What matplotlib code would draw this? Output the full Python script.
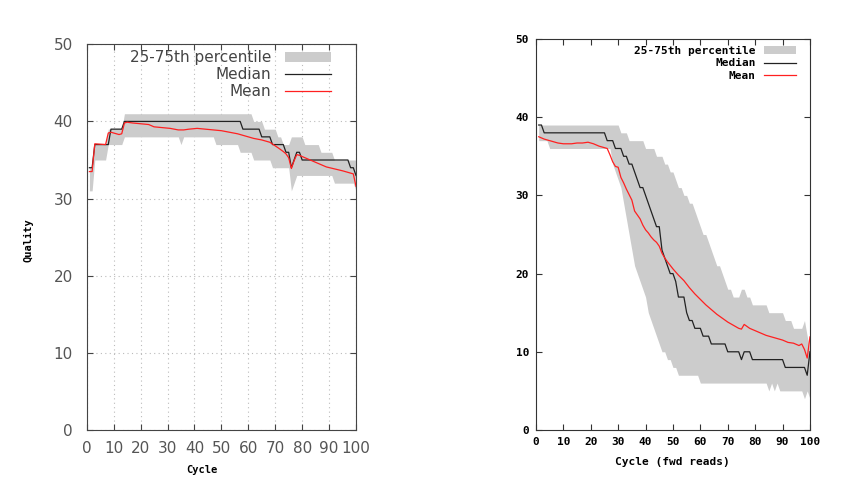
import matplotlib
matplotlib.use("Agg")
import matplotlib.pyplot as plt
import numpy as np

# left panel, per cycle 1..100 stored as (value, run length)
left_q25_vals = [31, 35, 37, 38, 37, 38, 37, 36, 35, 34, 31, 32, 33, 32, 31]
left_q25_runs = [2, 5, 6, 21, 1, 12, 9, 5, 7, 7, 1, 1, 14, 8, 1]
left_q75_vals = [34, 37, 39, 41, 40, 39, 38, 37, 38, 37, 36, 35]
left_q75_runs = [2, 5, 6, 48, 4, 5, 2, 3, 5, 6, 5, 9]
left_med_vals = [34, 37, 39, 40, 39, 38, 37, 36, 34, 35, 36, 35, 34, 33]
left_med_runs = [2, 6, 5, 44, 7, 4, 5, 2, 1, 1, 2, 18, 2, 1]
left_mean_cyc = [1, 2, 3, 7, 8, 9, 10, 12, 13, 14, 15, 17, 20, 23, 25, 28, 31, 34, 36,
                 38, 41, 44, 47, 50, 53, 56, 59, 62, 65, 68, 71, 73, 74, 75, 76, 77,
                 78, 79, 83, 89, 95, 99, 100]
left_mean_val = [33.5, 33.5, 37.1, 37.0, 38.5, 38.6, 38.5, 38.3, 38.4, 39.8, 39.9, 39.8,
                 39.7, 39.6, 39.3, 39.2, 39.1, 38.9, 38.9, 39.0, 39.1, 39.0, 38.9, 38.8,
                 38.6, 38.4, 38.1, 37.8, 37.6, 37.3, 36.6, 36.1, 35.8, 35.3, 33.9, 34.9,
                 35.7, 35.6, 35.0, 34.1, 33.6, 33.2, 31.6]

# right panel (fwd reads), per cycle 1..100
right_q25_vals = [37, 36, 34, 33, 32, 31, 29, 27, 25, 23, 21, 20, 19, 18, 17, 15, 14, 13,
                  12, 11, 10, 9, 8, 7, 6, 5, 6, 5, 6, 5, 4, 5, 4]
right_q25_runs = [4, 23, 1, 1, 1, 1, 1, 1, 1, 1, 1, 1, 1, 1, 1, 1, 1, 1,
                  1, 1, 2, 2, 2, 8, 25, 1, 1, 1, 1, 9, 1, 1, 1]
right_q75_vals = [39, 38, 37, 36, 35, 34, 33, 32, 31, 30, 29, 28, 27, 26, 25, 24, 23, 22,
                  21, 20, 19, 18, 17, 18, 17, 16, 15, 14, 13, 14, 12, 10]
right_q75_runs = [30, 3, 6, 4, 3, 2, 2, 1, 2, 2, 2, 1, 1, 1, 2, 1, 1, 1,
                  2, 1, 1, 2, 3, 2, 2, 6, 6, 3, 4, 1, 1, 1]
right_med_vals = [39, 38, 37, 36, 35, 34, 33, 32, 31, 30, 29, 28, 27, 26, 23, 22, 21, 20,
                  19, 17, 15, 14, 13, 12, 11, 10, 9, 10, 9, 8, 7, 10]
right_med_runs = [2, 23, 3, 3, 2, 2, 1, 1, 2, 1, 1, 1, 1, 2, 1, 1, 1, 2,
                  1, 3, 1, 2, 3, 3, 6, 5, 1, 3, 12, 8, 1, 1]
right_mean_cyc = [1, 3, 5, 8, 10, 13, 15, 17, 19, 21, 23, 25, 26, 27, 28, 29, 30, 31, 32,
                  33, 34, 35, 36, 37, 38, 39, 40, 41, 42, 43, 44, 45, 46, 47, 48, 50, 52,
                  54, 56, 58, 60, 62, 64, 66, 68, 70, 72, 74, 75, 76, 78, 80, 82, 84, 86,
                  88, 90, 92, 94, 96, 97, 98, 99, 100]
right_mean_val = [37.5, 37.2, 37.0, 36.7, 36.6, 36.6, 36.7, 36.7, 36.8, 36.6, 36.3, 36.1,
                  36.0, 35.2, 34.3, 33.7, 33.6, 32.3, 31.6, 30.8, 30.1, 29.4, 28.0, 27.5,
                  27.0, 26.2, 25.6, 25.2, 24.7, 24.3, 24.0, 23.5, 22.6, 22.0, 21.5, 20.6,
                  19.8, 19.1, 18.2, 17.4, 16.7, 16.0, 15.4, 14.8, 14.3, 13.8, 13.4, 13.0,
                  12.9, 13.5, 13.0, 12.7, 12.4, 12.1, 11.9, 11.7, 11.5, 11.2, 11.1, 10.8,
                  11.0, 10.3, 9.2, 11.9]

labels = ["25-75th percentile", "Median", "Mean"]
band_col = "#cccccc"
med_col = "#222222"
mean_col = "#ff2020"


def runs(vals, counts):
    return np.repeat(vals, counts)


def draw_panel(ax, q25, q75, med, mean_x, mean_y):
    cyc = np.arange(1, len(q25) + 1)
    band = ax.fill_between(cyc, q25, q75, color=band_col, lw=0, zorder=2)
    l1, = ax.plot(cyc, med, color=med_col, lw=0.9, zorder=3)
    l2, = ax.plot(mean_x, mean_y, color=mean_col, lw=0.9, zorder=4)
    ax.set_xlim(0, 100)
    ax.set_ylim(0, 50)
    ax.set_xticks(range(0, 101, 10))
    ax.set_yticks(range(0, 51, 10))
    return [band, l1, l2]


fig = plt.figure(figsize=(8.57, 4.82), dpi=100)

# ---- left ----
axl = fig.add_axes([0.1012, 0.1079, 0.3142, 0.8002])
hl = draw_panel(axl, runs(left_q25_vals, left_q25_runs), runs(left_q75_vals, left_q75_runs),
                runs(left_med_vals, left_med_runs), left_mean_cyc, left_mean_val)
axl.grid(True, linestyle=(0, (1, 3)), color="#bbbbbb", lw=0.8, zorder=0)
axl.set_axisbelow(True)
for s in axl.spines.values():
    s.set_color("#444444")
axl.tick_params(direction="in", length=4, width=0.8, color="#444444", top=True, right=True,
                labelsize=11, labelcolor="#555555")
axl.tick_params(axis="y", pad=10)
axl.tick_params(axis="x", pad=8)
leg = axl.legend(hl, labels, loc="upper right", bbox_to_anchor=(0.93, 1.0), frameon=False,
                 markerfirst=False, fontsize=11, handlelength=3.0, handleheight=0.55,
                 labelspacing=0.12, handletextpad=0.9, borderaxespad=0)
for t in leg.get_texts():
    t.set_color("#444444")
fig.text(28 / 857, 1 - 240 / 482, "Quality", rotation=90, ha="center", va="center",
         family="DejaVu Sans Mono", weight="bold", fontsize=7.5)
fig.text(202 / 857, 1 - 470 / 482, "Cycle", ha="center", va="center",
         family="DejaVu Sans Mono", weight="bold", fontsize=7.5)

# ---- right ----
axr = fig.add_axes([0.6254, 0.1079, 0.3197, 0.8112])
hr = draw_panel(axr, runs(right_q25_vals, right_q25_runs), runs(right_q75_vals, right_q75_runs),
                runs(right_med_vals, right_med_runs), right_mean_cyc, right_mean_val)
for s in axr.spines.values():
    s.set_color("#333333")
axr.tick_params(direction="in", length=4.5, width=0.8, color="#333333", top=True, right=True,
                labelsize=8, pad=5)
for t in axr.get_xticklabels() + axr.get_yticklabels():
    t.set_family("DejaVu Sans Mono")
    t.set_weight("bold")
legr = axr.legend(hr, labels, loc="upper right", bbox_to_anchor=(0.965, 0.993), frameon=False,
                  markerfirst=False, prop={"family": "DejaVu Sans Mono", "weight": "bold", "size": 8},
                  handlelength=2.9, handleheight=0.7, labelspacing=0.2, handletextpad=0.7,
                  borderaxespad=0)
fig.text(672 / 857, 1 - 462 / 482, "Cycle (fwd reads)", ha="center", va="center",
         family="DejaVu Sans Mono", weight="bold", fontsize=8)

fig.savefig("out.png", dpi=100)
